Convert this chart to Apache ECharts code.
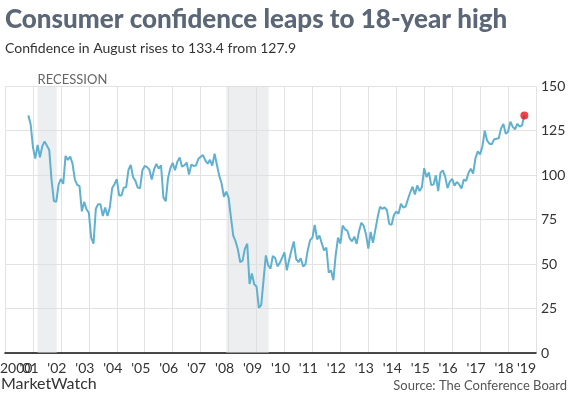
<!DOCTYPE html>
<html>
<head>
<meta charset="utf-8">
<script src="https://cdn.jsdelivr.net/npm/echarts@6/dist/echarts.min.js"></script>
<style>
	html, body { margin: 0; padding: 0; background: #fff; }
	#chart { width: 569px; height: 398px; }
</style>
</head>
<body>
<div id="chart"></div>
<script>
// Conference Board consumer confidence index, monthly, from Nov 2000
var startYear = 2000, startMonth = 11;
var conf2000 = [133.5, 128.6];
var conf2001 = [115.7, 109.2, 116.9, 109.9, 116.1, 118.9, 116.5, 114.0, 97.0, 85.3, 84.9, 94.6];
var conf2002 = [97.8, 95.0, 110.7, 108.5, 110.3, 106.3, 97.4, 94.5, 93.7, 79.6, 84.9, 80.7];
var conf2003 = [78.8, 64.8, 61.4, 81.0, 83.6, 83.5, 77.0, 81.7, 77.0, 81.7, 92.5, 94.8];
var conf2004 = [97.7, 88.5, 88.5, 93.0, 93.1, 102.8, 105.7, 98.7, 96.7, 92.9, 92.6, 102.7];
var conf2005 = [105.1, 104.4, 103.0, 97.5, 103.1, 106.2, 103.6, 105.5, 87.5, 85.2, 98.3, 103.8];
var conf2006 = [106.8, 102.7, 107.5, 109.8, 104.7, 105.4, 107.0, 100.2, 105.9, 105.1, 105.3, 109.0];
var conf2007 = [110.2, 111.2, 108.2, 106.3, 108.5, 105.3, 111.9, 105.6, 99.5, 95.2, 87.8, 90.6];
var conf2008 = [87.3, 76.4, 65.9, 62.8, 58.1, 51.0, 51.9, 58.5, 61.4, 38.8, 44.7, 38.6];
var conf2009 = [37.4, 25.3, 26.9, 40.8, 54.8, 49.3, 47.4, 54.5, 53.4, 48.7, 50.6, 53.6];
var conf2010 = [56.5, 46.4, 52.3, 57.7, 62.7, 52.9, 51.0, 53.2, 48.6, 49.9, 57.8, 63.4];
var conf2011 = [64.8, 72.0, 63.8, 66.0, 61.7, 57.6, 59.2, 45.2, 46.4, 40.9, 55.2, 64.8];
var conf2012 = [61.5, 71.6, 69.5, 68.7, 64.4, 62.7, 65.4, 61.3, 68.4, 73.1, 71.5, 66.7];
var conf2013 = [58.6, 68.0, 61.9, 69.0, 76.2, 82.1, 81.0, 81.8, 80.2, 72.4, 72.0, 77.5];
var conf2014 = [79.4, 78.3, 83.9, 81.7, 82.2, 86.4, 90.3, 93.4, 89.0, 94.1, 91.0, 93.1];
var conf2015 = [103.8, 98.8, 101.4, 94.3, 94.6, 99.8, 91.0, 101.3, 102.6, 99.1, 92.6, 96.3];
var conf2016 = [97.8, 94.0, 96.1, 94.7, 92.4, 97.4, 96.7, 101.1, 103.5, 100.8, 109.4, 113.3];
var conf2017 = [111.6, 116.1, 124.9, 119.4, 117.6, 117.3, 120.0, 120.4, 120.6, 126.2, 128.6, 123.1];
var conf2018 = [124.3, 130.0, 127.0, 125.6, 128.8, 127.1, 127.9, 133.4];

// recessions, [start month, end month] as 'YYYY-MM'
var recessions = [['2001-03', '2001-11'], ['2007-12', '2009-06']];

var yTicks = [0, 25, 50, 75, 100, 125, 150];
var firstYear = 2000, lastYear = 2019;

var confidence = [].concat(conf2000, conf2001, conf2002, conf2003, conf2004, conf2005,
	conf2006, conf2007, conf2008, conf2009, conf2010, conf2011, conf2012, conf2013,
	conf2014, conf2015, conf2016, conf2017, conf2018);

function monthToYear(s)
{
	var p = s.split('-');
	return +p[0] + (+p[1] - 1) / 12;
}

function yearLabel(v)
{
	if (v === firstYear) return String(v);
	return '\'' + String(v).slice(2);
}

var points = confidence.map(function(v, i) {
	return [startYear + (startMonth - 1 + i) / 12, v];
});
var lastPoint = points[points.length - 1];

var chart = echarts.init(document.getElementById('chart'));

var option = {
	animation: false,
	textStyle: { fontFamily: 'Lato' },
	title: [
		{
			text: 'Consumer confidence leaps to 18-year high',
			left: 0,
			top: 2,
			textStyle: { fontFamily: 'Lato', fontSize: 26, fontWeight: 900, color: '#5b6677' }
		},
		{
			text: 'Confidence in August rises to 133.4 from 127.9',
			left: 0,
			top: 36,
			textStyle: { fontFamily: 'Lato', fontSize: 14, fontWeight: 'normal', color: '#333' }
		}
	],
	grid: {
		left: 5,
		right: 33,
		top: 86,
		bottom: 45,
		containLabel: false
	},
	xAxis: {
		type: 'value',
		min: firstYear,
		max: lastYear,
		interval: 1,
		axisLine: { show: true, lineStyle: { color: '#111', width: 1.5 } },
		axisTick: { show: false },
		splitLine: { show: true, lineStyle: { color: '#e2e2e2' } },
		axisLabel: {
			color: '#333',
			fontSize: 14,
			margin: 8,
			padding: [0, 8, 0, 0],
			showMinLabel: false,
			showMaxLabel: false,
			formatter: yearLabel
		}
	},
	yAxis: {
		type: 'value',
		position: 'right',
		min: yTicks[0],
		max: yTicks[yTicks.length - 1],
		interval: 25,
		axisLine: { show: false },
		axisTick: { show: false },
		splitLine: { show: true, lineStyle: { color: '#e2e2e2' } },
		axisLabel: { color: '#333', fontSize: 14, margin: 5 }
	},
	series: [
		{
			type: 'line',
			data: points,
			showSymbol: false,
			lineStyle: { color: '#60b0d0', width: 2 },
			z: 3,
			markArea: {
				silent: true,
				itemStyle: { color: 'rgba(218, 221, 226, 0.5)' },
				label: {
					show: true,
					position: [0, -13],
					color: '#666',
					fontSize: 13,
					fontFamily: 'Lato'
				},
				data: recessions.map(function(r, i) {
					return [
						{ name: i === 0 ? 'RECESSION' : '', xAxis: monthToYear(r[0]) },
						{ xAxis: monthToYear(r[1]) + 0.02 }
					];
				})
			}
		},
		{
			type: 'scatter',
			data: [lastPoint],
			symbolSize: 8,
			itemStyle: { color: '#e8141c' },
			z: 4
		}
	]
};

chart.setOption(option);

// end labels of the year axis overlap their neighbours, as in the original
var x0 = chart.convertToPixel({ xAxisIndex: 0 }, firstYear);
var x1 = chart.convertToPixel({ xAxisIndex: 0 }, lastYear);
var y0 = chart.convertToPixel({ yAxisIndex: 0 }, 0);

chart.setOption({
	graphic: [
		{
			type: 'text',
			x: x0 - 5,
			y: y0 + 8,
			style: { text: yearLabel(firstYear), font: '14px Lato', fill: '#333', align: 'left', verticalAlign: 'top' }
		},
		{
			type: 'text',
			x: x1,
			y: y0 + 8,
			style: { text: yearLabel(lastYear), font: '14px Lato', fill: '#333', align: 'right', verticalAlign: 'top' }
		},
		{
			type: 'text',
			left: 1,
			top: 376,
			style: { text: 'MarketWatch', font: '16px Lato', fill: '#333' }
		},
		{
			type: 'text',
			right: 2,
			top: 379,
			style: { text: 'Source: The Conference Board', font: '13px Lato', fill: '#555' }
		}
	]
});
</script>
</body>
</html>
